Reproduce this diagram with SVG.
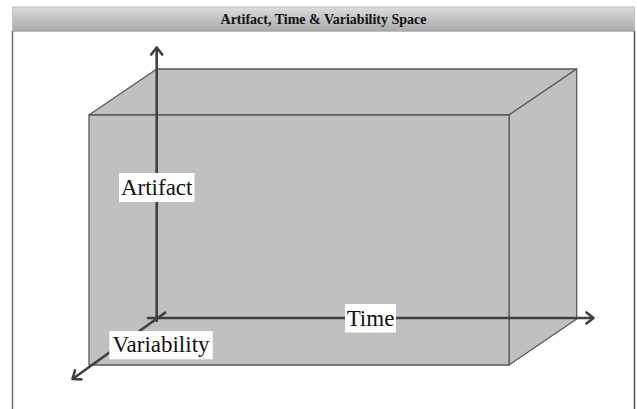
<svg xmlns="http://www.w3.org/2000/svg" width="637" height="409" viewBox="0 0 637 409">
<style>
.title{font-family:"Liberation Serif","Times New Roman",serif;font-weight:bold;font-size:14px;fill:#111;}
.lbl{font-family:"Liberation Serif","Times New Roman",serif;font-size:23px;fill:#111;}
.face{fill:#c0c0c0;stroke:#5a5a5a;stroke-width:1.3;stroke-linejoin:round;}
.axis{fill:none;stroke:#404040;stroke-width:2.6;}
.bg{fill:#ffffff;}
</style>
<defs>
<linearGradient id="tg" x1="0" y1="0" x2="0" y2="1">
<stop offset="0" stop-color="#dcdcdc"/>
<stop offset="1" stop-color="#a8a8a8"/>
</linearGradient>
<marker id="arr" markerUnits="userSpaceOnUse" markerWidth="20" markerHeight="20" viewBox="-10 -10 20 20" refX="0" refY="0" orient="auto" overflow="visible">
<path d="M-7,-5.5 L0,0 L-7,5.5" fill="none" stroke="#404040" stroke-width="2.6" stroke-linecap="round" stroke-linejoin="round"/>
</marker>
</defs>
<rect x="0" y="0" width="637" height="409" fill="#ffffff"/>
<g id="frame">
<rect x="12.5" y="7" width="622" height="24.5" fill="url(#tg)" stroke="#bdbdbd" stroke-width="1"/>
<line x1="12.5" y1="31" x2="12.5" y2="409" stroke="#707070" stroke-width="1.5"/>
<line x1="634.5" y1="31" x2="634.5" y2="409" stroke="#505050" stroke-width="1.5"/>
<text class="title" x="323.5" y="24" text-anchor="middle">Artifact, Time &amp; Variability Space</text>
</g>
<g id="box">
<polygon class="face" points="89,115 156.7,69 576.7,69 509,115"/>
<polygon class="face" points="509,115 576.7,69 576.7,319 509,365"/>
<rect class="face" x="89" y="115" width="420" height="250"/>
</g>
<g id="connectors">
<line class="axis" x1="156.7" y1="322" x2="156.7" y2="47.5" marker-end="url(#arr)"/>
<line class="axis" x1="147" y1="318" x2="593.5" y2="318" marker-end="url(#arr)"/>
<line class="axis" x1="166" y1="312" x2="72.5" y2="379" marker-end="url(#arr)"/>
</g>
<g id="artifact">
<rect class="bg" x="119" y="173" width="75.5" height="29"/>
<text class="lbl" x="156.7" y="195" text-anchor="middle">Artifact</text>
</g>
<g id="time">
<rect class="bg" x="345" y="304" width="51" height="28.5"/>
<text class="lbl" x="370.5" y="325.7" text-anchor="middle">Time</text>
</g>
<g id="variability">
<rect class="bg" x="109.3" y="331" width="103.4" height="28.3"/>
<text class="lbl" x="161" y="351.7" text-anchor="middle">Variability</text>
</g>
</svg>
